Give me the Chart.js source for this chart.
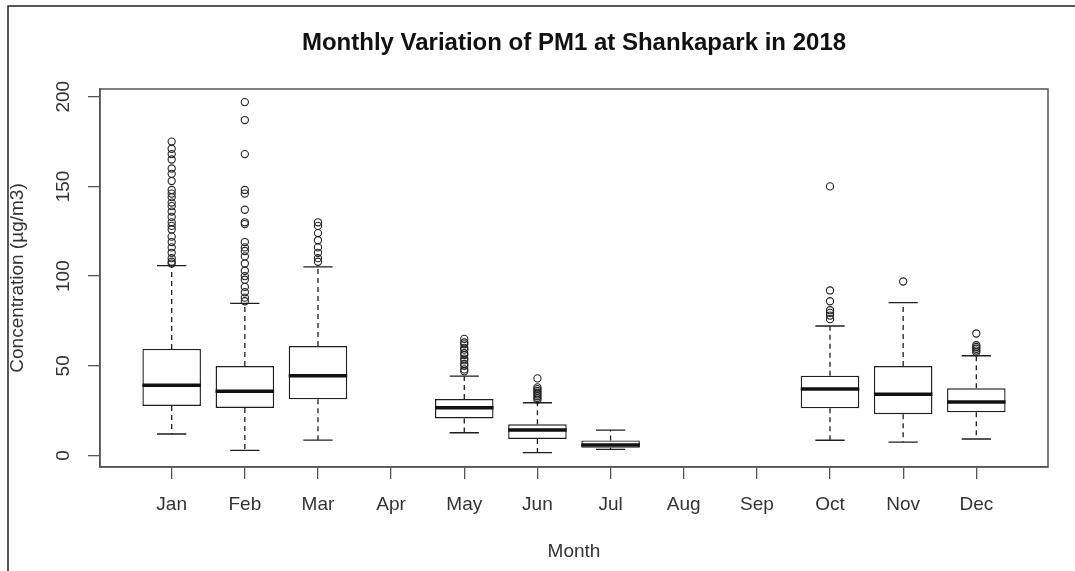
<!DOCTYPE html>
<html>
<head>
<meta charset="utf-8">
<script src="https://cdn.jsdelivr.net/npm/chart.js@4"></script>
<style>
  html, body { margin: 0; padding: 0; background: #fff; }
  #wrap { position: relative; width: 1075px; height: 571px; }
</style>
</head>
<body>
<div id="wrap"><canvas id="c" width="1075" height="571"></canvas></div>
<script>
// ---- data ----
const months = ['Jan','Feb','Mar','Apr','May','Jun','Jul','Aug','Sep','Oct','Nov','Dec'];
const lowerWhisker = [12.0, 2.9, 8.6, null, 12.7, 1.6, 3.4, null, null, 8.5, 7.5, 9.2];
const q1           = [27.6, 26.5, 31.3, null, 20.7, 9.2, 4.3, null, null, 26.3, 23.0, 24.1];
const medians      = [39.1, 35.8, 44.5, null, 26.6, 14.2, 5.9, null, null, 37.1, 34.1, 29.8];
const q3           = [59.4, 49.9, 61.0, null, 31.5, 17.4, 8.4, null, null, 44.5, 49.9, 37.5];
const upperWhisker = [105.8, 84.8, 105.2, null, 44.3, 29.4, 14.2, null, null, 72.2, 85.2, 55.6];
const outliersJan = [175,171,168,165,160,157,153,148,146,144,141,139,136,133,130,128,126,122,119,116,113,110,108,107];
const outliersFeb = [197,187,168,148,146,137,130,129,119,116,114,111,107,103,100,98,94,91,88,86];
const outliersMar = [130,128,124,120,116,113,110,108];
const outliersMay = [65,63,62,60,59,57,56,54,53,51,50,48,47];
const outliersJun = [43,38,37,36,35,34,33,32,31];
const outliersJul = [];
const outliersOct = [150,92,86,81,79.5,78,76];
const outliersNov = [97];
const outliersDec = [68,61.5,60.5,59.5,58.5,57.5];
const outliers = [outliersJan, outliersFeb, outliersMar, [], outliersMay, outliersJun, outliersJul, [], [], outliersOct, outliersNov, outliersDec];
const yTicks = [0, 50, 100, 150, 200];
const titleText = 'Monthly Variation of PM1 at Shankapark in 2018';
const xTitle = 'Month';
const yTitle = 'Concentration (\u00b5g/m3)';

// ---- build datasets ----
const boxData = [];
months.forEach((m, i) => { if (q1[i] !== null) boxData.push({ x: i + 1, y: [q1[i], q3[i]] }); });
const outlierData = [];
outliers.forEach((arr, i) => arr.forEach(v => outlierData.push({ x: i + 1, y: v })));

const FONT = '"Liberation Sans", Arial, sans-serif';
const INK = '#1e1e1e';
const AXIS = '#555';

const boxPlugin = {
  id: 'boxParts',
  beforeDraw(chart) {
    const ctx = chart.ctx;
    ctx.save();
    ctx.fillStyle = '#fff';
    ctx.fillRect(0, 0, chart.width, chart.height);
    // outer frame of the figure
    ctx.strokeStyle = '#222';
    ctx.lineWidth = 1.5;
    ctx.beginPath();
    ctx.moveTo(8, chart.height);
    ctx.lineTo(8, 6);
    ctx.lineTo(chart.width, 6);
    ctx.stroke();
    ctx.restore();
  },
  beforeDatasetsDraw(chart) {
    const ctx = chart.ctx, xs = chart.scales.x, ys = chart.scales.y;
    ctx.save();
    ctx.strokeStyle = INK;
    ctx.lineWidth = 1.3;
    months.forEach((m, i) => {
      if (q1[i] === null) return;
      const xc = xs.getPixelForValue(i + 1);
      const xl = xs.getPixelForValue(i + 1 - 0.2), xr = xs.getPixelForValue(i + 1 + 0.2);
      // dashed whiskers
      ctx.setLineDash([5, 4]);
      ctx.beginPath();
      ctx.moveTo(xc, ys.getPixelForValue(q3[i]));
      ctx.lineTo(xc, ys.getPixelForValue(upperWhisker[i]));
      ctx.moveTo(xc, ys.getPixelForValue(q1[i]));
      ctx.lineTo(xc, ys.getPixelForValue(lowerWhisker[i]));
      ctx.stroke();
      // staples
      ctx.setLineDash([]);
      ctx.beginPath();
      const yu = ys.getPixelForValue(upperWhisker[i]), yl = ys.getPixelForValue(lowerWhisker[i]);
      ctx.moveTo(xl, yu); ctx.lineTo(xr, yu);
      ctx.moveTo(xl, yl); ctx.lineTo(xr, yl);
      ctx.stroke();
    });
    ctx.restore();
  },
  afterDatasetsDraw(chart) {
    const ctx = chart.ctx, xs = chart.scales.x, ys = chart.scales.y;
    const a = chart.chartArea;
    ctx.save();
    // medians
    ctx.strokeStyle = '#111';
    ctx.lineWidth = 3.5;
    ctx.lineCap = 'butt';
    months.forEach((m, i) => {
      if (medians[i] === null) return;
      const xl = xs.getPixelForValue(i + 1 - 0.4), xr = xs.getPixelForValue(i + 1 + 0.4);
      const y = ys.getPixelForValue(medians[i]);
      ctx.beginPath(); ctx.moveTo(xl, y); ctx.lineTo(xr, y); ctx.stroke();
    });
    // plot frame
    ctx.strokeStyle = AXIS;
    ctx.lineWidth = 1.5;
    ctx.strokeRect(a.left, a.top, a.right - a.left, a.bottom - a.top);
    ctx.restore();
  }
};

new Chart(document.getElementById('c'), {
  type: 'bar',
  data: {
    datasets: [
      {
        type: 'bar',
        label: 'IQR',
        data: boxData,
        backgroundColor: '#fff',
        borderColor: INK,
        borderWidth: 1.4,
        borderSkipped: false,
        barPercentage: 0.8,
        categoryPercentage: 1.0,
        grouped: false,
        order: 2
      },
      {
        type: 'scatter',
        label: 'Outliers',
        data: outlierData,
        pointStyle: 'circle',
        pointRadius: 3.6,
        pointBorderWidth: 1.1,
        pointBackgroundColor: 'rgba(0,0,0,0)',
        pointBorderColor: '#222',
        showLine: false,
        order: 1
      }
    ]
  },
  options: {
    responsive: false,
    animation: false,
    events: [],
    layout: { padding: { left: 0, right: 27, top: 0, bottom: 0 } },
    plugins: {
      legend: { display: false },
      tooltip: { enabled: false },
      title: {
        display: true,
        text: titleText,
        fullSize: false,
        color: '#111',
        font: { family: FONT, size: 24, weight: 'bold' },
        padding: { top: 28.6, bottom: 31.6 }
      }
    },
    scales: {
      x: {
        type: 'linear',
        offset: false,
        min: 0.02,
        max: 12.98,
        afterBuildTicks: (s) => { s.ticks = months.map((m, i) => ({ value: i + 1 })); },
        afterFit: (s) => { s.height = 104; },
        ticks: {
          autoSkip: false,
          maxRotation: 0,
          minRotation: 0,
          padding: 14,
          color: '#333',
          font: { family: FONT, size: 19 },
          callback: (v) => months[Math.round(v) - 1]
        },
        grid: { display: true, offset: false, drawOnChartArea: false, drawTicks: true, tickLength: 12, color: AXIS, lineWidth: 1.3 },
        border: { display: true, color: AXIS, width: 1.5 },
        title: { display: true, text: xTitle, color: '#333', font: { family: FONT, size: 19 }, padding: { top: 0, bottom: 7.6 } }
      },
      y: {
        type: 'linear',
        min: -6.4,
        max: 204.3,
        afterBuildTicks: (s) => { s.ticks = yTicks.map(v => ({ value: v })); },
        afterFit: (s) => { s.width = 100; },
        ticks: {
          minRotation: 90,
          maxRotation: 90,
          crossAlign: 'center',
          padding: 8,
          color: '#333',
          font: { family: FONT, size: 19 }
        },
        grid: { display: true, drawOnChartArea: false, drawTicks: true, tickLength: 12, color: AXIS, lineWidth: 1.3 },
        border: { display: true, color: AXIS, width: 1.5 },
        title: { display: true, text: yTitle, color: '#333', font: { family: FONT, size: 19 }, padding: { top: 6.6, bottom: 0 } }
      }
    }
  },
  plugins: [boxPlugin]
});
</script>
</body>
</html>
